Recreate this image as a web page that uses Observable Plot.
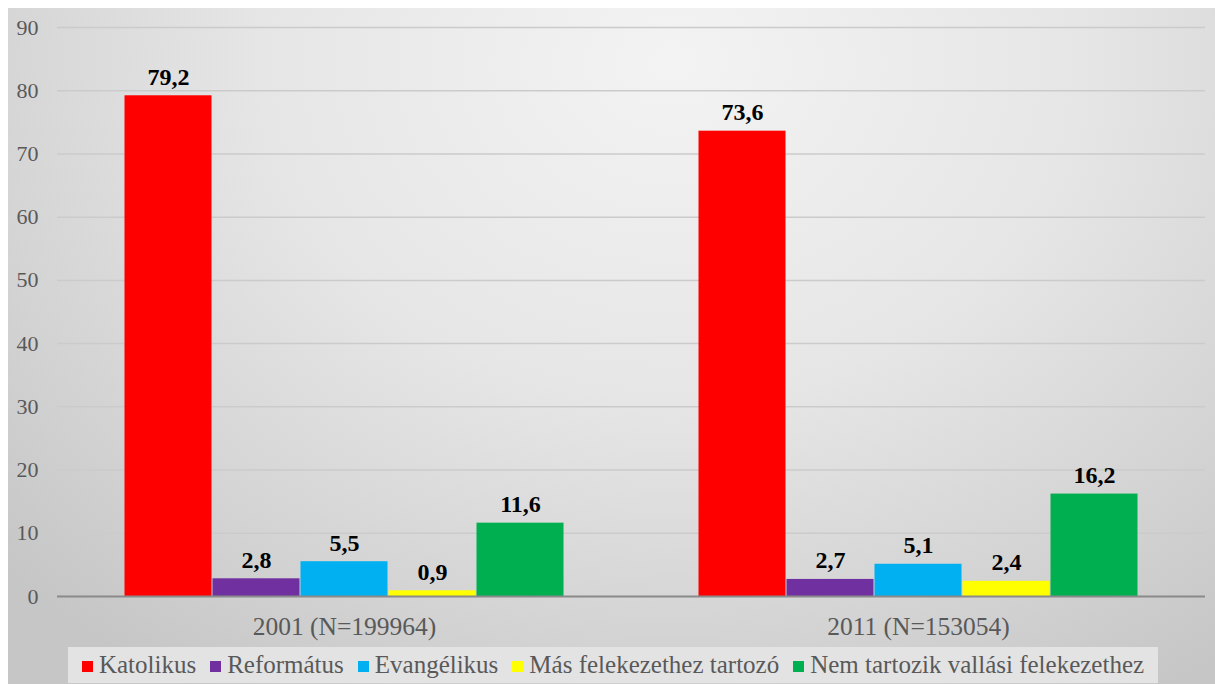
<!DOCTYPE html>
<html>
<head>
<meta charset="utf-8">
<script src="https://cdn.jsdelivr.net/npm/d3@7"></script>
<script src="https://cdn.jsdelivr.net/npm/@observablehq/plot@0.6"></script>
<style>
  html, body { margin: 0; padding: 0; background: #ffffff; width: 1215px; height: 684px; overflow: hidden; }
  #panel {
    position: absolute; left: 8px; top: 8px; width: 1207px; height: 676px;
    background: radial-gradient(ellipse 75% 110% at 55% 8%, #f3f3f3 0%, #e6e6e6 45%, #d2d2d2 80%, #c6c6c6 100%);
  }
  #chart { position: absolute; left: 0; top: 0; }
  #legend {
    position: absolute; left: 68px; top: 647px; width: 1090px; height: 36px;
    background: #e3e3e3;
    display: flex; align-items: center; justify-content: center;
    color: #595959; white-space: nowrap;
    font-family: "Liberation Serif", "Times New Roman", serif; font-size: 25px;
  }
  .item { display: flex; align-items: center; margin: 0 7px; }
  .sw { width: 11px; height: 11px; margin-right: 6px; margin-top: 2px; }
</style>
</head>
<body>
<div id="panel"></div>
<div id="chart"></div>
<div id="legend"></div>
<script>
const years = ["2001 (N=199964)", "2011 (N=153054)"];
const categories = ["Katolikus", "Református", "Evangélikus", "Más felekezethez tartozó", "Nem tartozik vallási felekezethez"];
const colors = ["#ff0000", "#7030a0", "#00b0f0", "#ffff00", "#00b050"];
const values2001 = [79.2, 2.8, 5.5, 0.9, 11.6];
const values2011 = [73.6, 2.7, 5.1, 2.4, 16.2];
const yTicks = [0, 10, 20, 30, 40, 50, 60, 70, 80, 90];

const data = [];
categories.forEach((c, i) => data.push({year: years[0], cat: c, value: values2001[i]}));
categories.forEach((c, i) => data.push({year: years[1], cat: c, value: values2011[i]}));

const fmt = d => d.toFixed(1).replace(".", ",");
const fontStack = "'Liberation Serif', 'Times New Roman', serif";

const chart = Plot.plot({
  width: 1215,
  height: 640,
  marginLeft: 57,
  marginRight: 10,
  marginTop: 27,
  marginBottom: 44,
  style: {
    background: "transparent",
    fontFamily: fontStack,
    fontSize: "22px",
    color: "#595959",
    overflow: "visible"
  },
  fx: {domain: years, padding: 0, label: null, axis: null},
  x: {domain: categories, paddingInner: 0, paddingOuter: 0.754, axis: null},
  y: {domain: [0, 90], ticks: yTicks, tickSize: 0, tickPadding: 19, label: null, tickFormat: d => String(d)},
  color: {domain: categories, range: colors},
  marks: [
    Plot.axisFx({anchor: "bottom", tickSize: 0, tickPadding: 20, fontSize: 25.5, label: null}),
    Plot.ruleY(yTicks.filter(d => d > 0), {stroke: "#cbcbcb", strokeWidth: 1.5}),
    Plot.barY(data, {fx: "year", x: "cat", y: "value", fill: "cat", insetLeft: 0.5, insetRight: 0.5}),
    Plot.ruleY([0], {stroke: "#8a8a8a", strokeWidth: 1.8}),
    Plot.text(data, {
      fx: "year", x: "cat", y: "value", text: d => fmt(d.value),
      dy: -11, lineAnchor: "bottom", fill: "#000000",
      fontWeight: "bold", fontSize: 24
    })
  ]
});
document.getElementById("chart").appendChild(chart);

const legend = document.getElementById("legend");
categories.forEach((c, i) => {
  const item = document.createElement("div");
  item.className = "item";
  const sw = document.createElement("div");
  sw.className = "sw";
  sw.style.background = colors[i];
  const t = document.createElement("span");
  t.textContent = c;
  item.appendChild(sw);
  item.appendChild(t);
  legend.appendChild(item);
});
</script>
</body>
</html>
